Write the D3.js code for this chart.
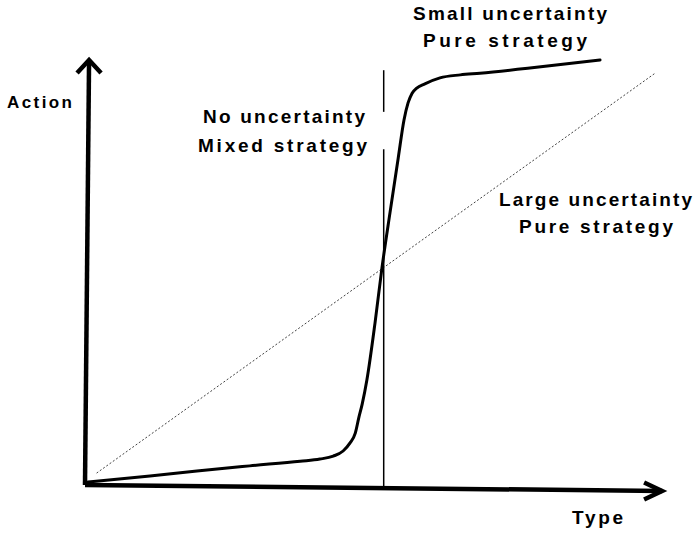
<!DOCTYPE html>
<html>
<head>
<meta charset="utf-8">
<script src="https://cdn.jsdelivr.net/npm/d3@7"></script>
<style>
  html, body { margin: 0; padding: 0; background: #fff; }
  svg { display: block; }
  text { font-family: "Liberation Sans", Arial, sans-serif; font-weight: bold; fill: #000; }
</style>
</head>
<body>
<svg id="chart" width="695" height="533"></svg>
<script>
// Equilibrium action as a function of type, under small uncertainty (steep S-curve)
const curveType   = [0.05, 1.12, 1.93, 2.84, 3.71, 4.05, 4.28, 4.45, 4.57, 4.66, 4.72, 4.78, 4.86, 5.00, 5.12, 5.26, 5.40, 5.50, 5.57, 5.64, 5.72, 5.86, 6.12, 6.47, 6.81, 7.67, 8.88];
const curveAction = [0.07, 0.21, 0.33, 0.45, 0.56, 0.61, 0.68, 0.80, 0.99, 1.22, 1.58, 1.91, 2.47, 3.81, 5.11, 6.42, 7.69, 8.59, 8.99, 9.22, 9.34, 9.44, 9.58, 9.65, 9.69, 9.81, 10.0];

// Large uncertainty: linear response
const diagType   = [0.2, 9.83];
const diagAction = [0.28, 9.69];

// No uncertainty: a jump at the threshold type
const thresholdType = 5.15;
const thresholdTop = 9.76;
const thresholdGap = [8.78, 7.9];

// Axis endpoints (type, action)
const xAxisType = [0, 9.95];
const xAxisAction = [0, -0.14];
const yAxisType = [0, 0.07];
const yAxisAction = [0, 10];

const labels = [
  { text: "Action",            x: 7,   y: 108, len: 65,  size: 17 },
  { text: "Type",              x: 572, y: 524, len: 51,  size: 19 },
  { text: "Small uncertainty", x: 413, y: 20,  len: 194, size: 19 },
  { text: "Pure strategy",     x: 423, y: 47,  len: 164, size: 19 },
  { text: "No uncertainty",    x: 203, y: 123, len: 162, size: 19 },
  { text: "Mixed strategy",    x: 198, y: 152, len: 169, size: 19 },
  { text: "Large uncertainty", x: 499, y: 206, len: 193, size: 19 },
  { text: "Pure strategy",     x: 519, y: 233, len: 154, size: 19 }
];

const svg = d3.select("#chart");

const x = d3.scaleLinear().domain([0, 10]).range([85, 665]);
const y = d3.scaleLinear().domain([0, 10]).range([485, 60]);

const line = d3.line().x(d => x(d[0])).y(d => y(d[1]));

// Large-uncertainty diagonal (fine dotted)
svg.append("path")
  .datum(d3.zip(diagType, diagAction))
  .attr("d", line)
  .attr("fill", "none")
  .attr("stroke", "#444")
  .attr("stroke-width", 1)
  .attr("stroke-dasharray", "2,2");

// Threshold vertical line, broken around the label
svg.append("path")
  .datum([[thresholdType, thresholdTop], [thresholdType, thresholdGap[0]]])
  .attr("d", line)
  .attr("stroke", "#000").attr("stroke-width", 1.5);
svg.append("path")
  .datum([[thresholdType, thresholdGap[1]], [thresholdType, -0.05]])
  .attr("d", line)
  .attr("stroke", "#000").attr("stroke-width", 1.5);

// Small-uncertainty S-curve
svg.append("path")
  .datum(d3.zip(curveType, curveAction))
  .attr("d", line.curve(d3.curveMonotoneX))
  .attr("fill", "none")
  .attr("stroke", "#000")
  .attr("stroke-width", 3)
  .attr("stroke-linecap", "round");
line.curve(d3.curveLinear);

// Axes with arrowheads
const axisG = svg.append("g").attr("stroke", "#000").attr("fill", "none")
  .attr("stroke-width", 4.5);

axisG.append("path").datum(d3.zip(xAxisType, xAxisAction)).attr("d", line);
axisG.append("path").datum(d3.zip(yAxisType, yAxisAction)).attr("d", line);

const xt = [x(xAxisType[1]), y(xAxisAction[1])];
axisG.append("path")
  .attr("d", `M${xt[0] - 18},${xt[1] - 8.5}L${xt[0]},${xt[1]}L${xt[0] - 18},${xt[1] + 8.5}`)
  .attr("stroke-width", 4.5).attr("stroke-linejoin", "miter");

const yt = [x(yAxisType[1]), y(yAxisAction[1])];
axisG.append("path")
  .attr("d", `M${yt[0] - 12},${yt[1] + 13}L${yt[0]},${yt[1]}L${yt[0] + 12},${yt[1] + 13}`)
  .attr("stroke-width", 4.5).attr("stroke-linejoin", "miter");

// Text labels
svg.append("g").selectAll("text")
  .data(labels)
  .join("text")
  .attr("x", d => d.x)
  .attr("y", d => d.y)
  .attr("font-size", d => d.size)
  .attr("textLength", d => d.len)
  .attr("lengthAdjust", "spacing")
  .text(d => d.text);
</script>
</body>
</html>
